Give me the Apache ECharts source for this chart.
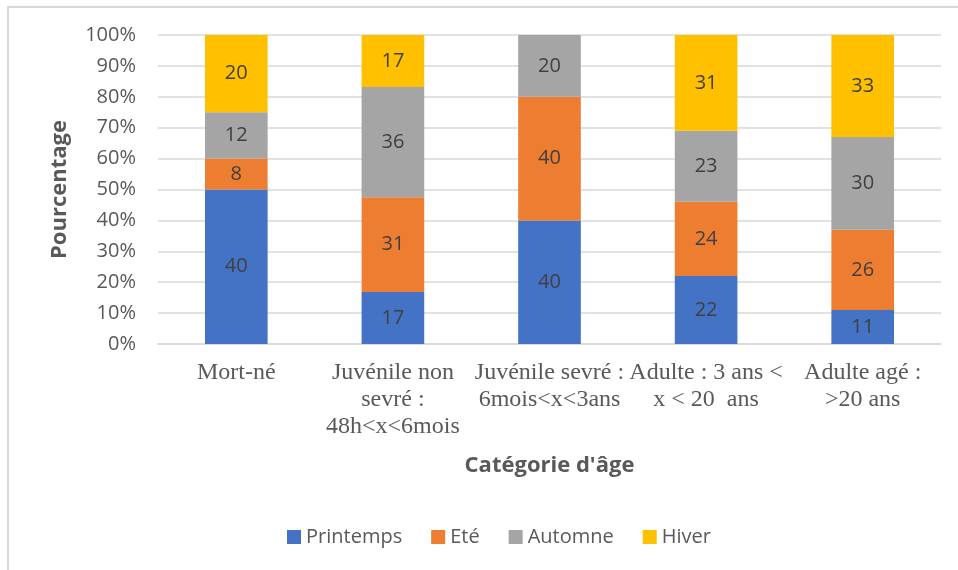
<!DOCTYPE html>
<html><head><meta charset="utf-8">
<script src="https://cdn.jsdelivr.net/npm/echarts@6/dist/echarts.min.js"></script>
<style>html,body{margin:0;padding:0;background:#fff;overflow:hidden}#c{width:958px;height:570px}
#frame{position:absolute;left:7px;top:6px;width:951px;height:564px;border-left:2px solid #d9d9d9;border-top:2px solid #d9d9d9;box-sizing:border-box;pointer-events:none}</style>
</head><body><div id="c"></div><div id="frame"></div>
<script>
const categories = ["Mort-né", "Juvénile non\nsevré :\n48h<x<6mois", "Juvénile sevré :\n6mois<x<3ans", "Adulte : 3 ans <\nx < 20  ans", "Adulte agé :\n>20 ans"];
const seriesNames = ["Printemps", "Eté", "Automne", "Hiver"];
const printemps = [40, 17, 40, 22, 11];
const ete = [8, 31, 40, 24, 26];
const automne = [12, 36, 20, 23, 30];
const hiver = [20, 17, 0, 31, 33];
const colors = ["#4472c4", "#ed7d31", "#a5a5a5", "#ffc000"];
const yTicks = [0, 10, 20, 30, 40, 50, 60, 70, 80, 90, 100];

const raw = [printemps, ete, automne, hiver];
const totals = categories.map((_, i) => raw.reduce((s, a) => s + a[i], 0));

const chart = echarts.init(document.getElementById('c'));
chart.setOption({
  animation: false,
  color: colors,
  grid: {left: 158, right: 17, top: 35, bottom: 226},
  legend: {
    top: 522, left: 282, itemWidth: 14, itemHeight: 14, itemGap: 29,
    icon: 'rect',
    textStyle: {fontFamily: 'Open Sans', fontSize: 20, color: '#595959'},
    data: seriesNames
  },
  xAxis: {
    type: 'category', data: categories,
    axisLine: {lineStyle: {color: '#d9d9d9', width: 1.5}},
    axisTick: {show: false},
    axisLabel: {fontFamily: 'Liberation Serif', fontSize: 24, color: '#595959', lineHeight: 27, margin: 15, interval: 0},
    name: "Catégorie d'âge", nameLocation: 'middle', nameGap: 111,
    nameTextStyle: {fontFamily: 'Open Sans', fontWeight: 'bold', fontSize: 22, color: '#595959'}
  },
  yAxis: {
    type: 'value', min: 0, max: 100, interval: 10,
    axisLabel: {formatter: v => yTicks.includes(v) ? v + '%' : '', fontFamily: 'Open Sans', fontSize: 20, color: '#595959', margin: 22},
    splitLine: {lineStyle: {color: '#d9d9d9', width: 1.5}},
    axisLine: {show: false},
    name: 'Pourcentage', nameLocation: 'middle', nameGap: 87, nameRotate: 90,
    nameTextStyle: {fontFamily: 'Open Sans', fontWeight: 'bold', fontSize: 22, color: '#595959'}
  },
  series: raw.map((arr, k) => ({
    name: seriesNames[k], type: 'bar', stack: 'tot', barWidth: '40%',
    data: arr.map((v, i) => ({value: v / totals[i] * 100, count: v})),
    label: {
      show: true, position: 'inside', fontFamily: 'Open Sans', fontSize: 20, color: '#404040',
      formatter: p => p.data.count ? String(p.data.count) : ''
    }
  }))
});
</script></body></html>
